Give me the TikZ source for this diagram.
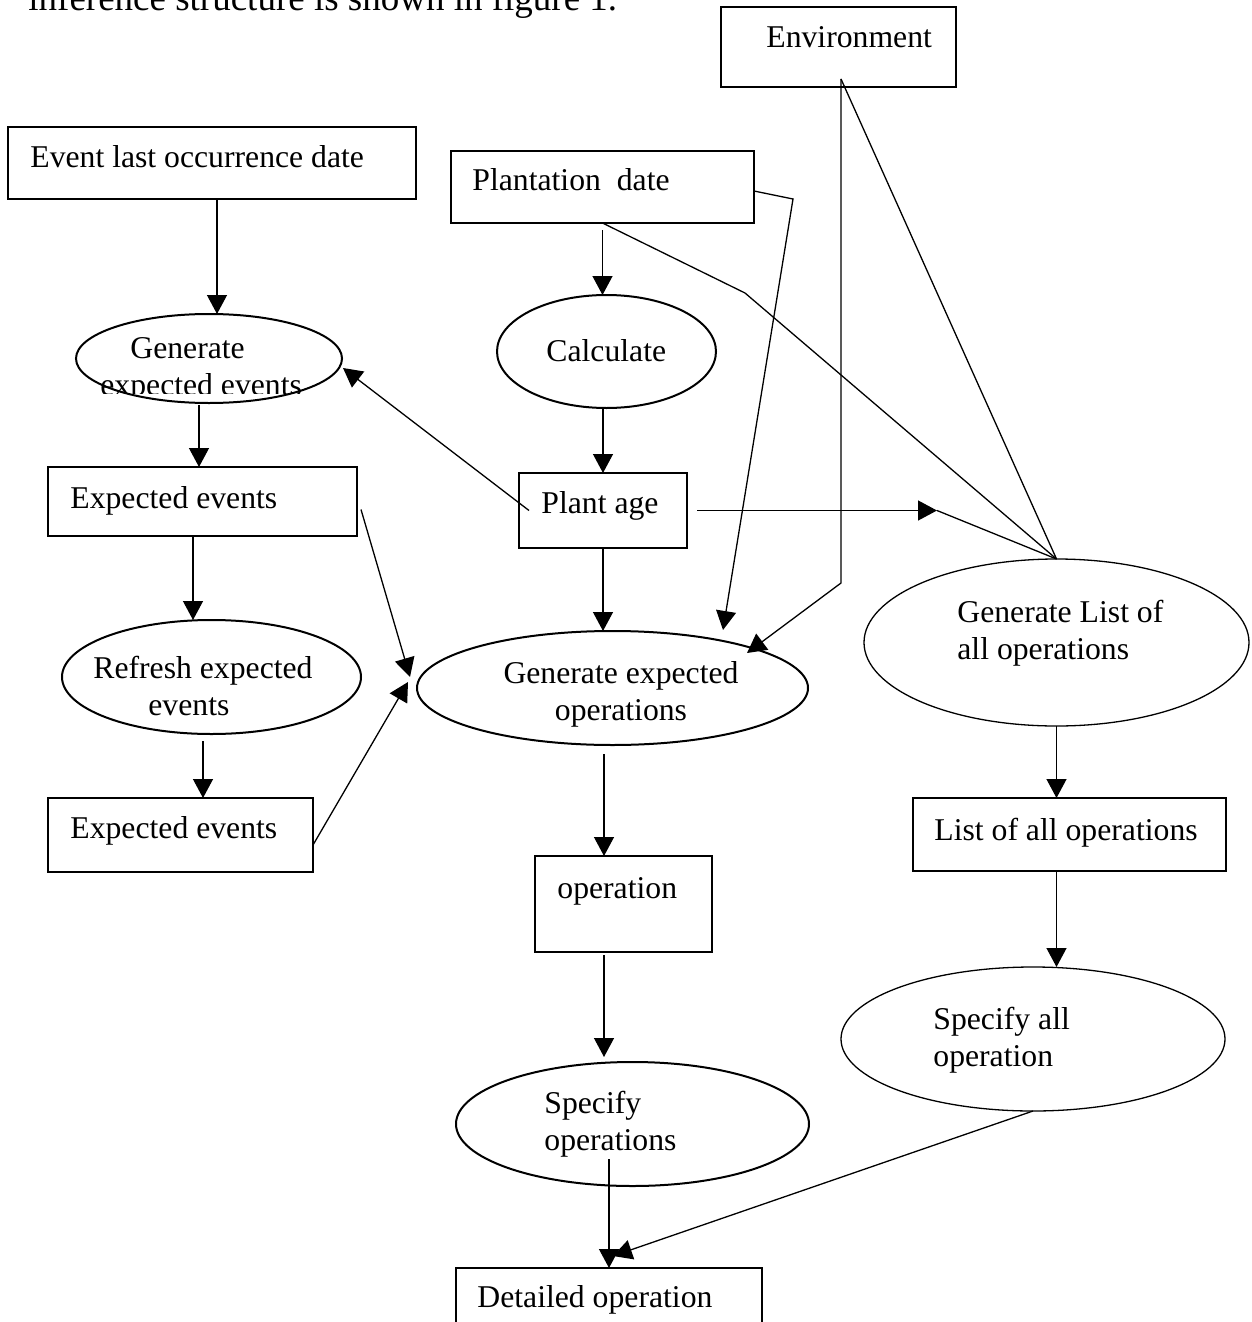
\documentclass[tikz,border=0pt]{standalone}
\usepackage{fontspec}
\setmainfont{Liberation Serif}
\usetikzlibrary{arrows.meta,shapes.geometric,calc}

\begin{document}
\begin{tikzpicture}[
    x=0.5pt, y=-0.5pt,
    font=\fontsize{15.85pt}{18.5pt}\selectfont,
    box/.style={draw,line width=1pt,inner sep=0pt,outer sep=0pt},
    oval/.style={draw,ellipse,line width=1pt,inner sep=0pt,outer sep=0pt},
    thinoval/.style={oval,line width=0.65pt},
    lbl/.style={anchor=base west,inner sep=0pt},
    arrow/.style={-{Triangle[length=9.5pt,width=10pt]},line width=0.65pt},
    link/.style={line width=0.65pt}
  ]
  \useasboundingbox (0,0) rectangle (1252,1322);

  % running text above the figure
  \node[lbl, font=\fontsize{18.5pt}{22pt}\selectfont] (intro) at (28,11) {inference structure is shown in figure 1.};

  % boxes
  \node[box, minimum width=117.5pt, minimum height=40pt] (env) at (838.5,47) {};
  \node[box, minimum width=204pt, minimum height=36pt] (evlast) at (212,163) {};
  \node[box, minimum width=151.5pt, minimum height=36pt] (plant) at (602.5,187) {};
  \node[box, minimum width=154.5pt, minimum height=34.5pt] (expev1) at (202.5,501.5) {};
  \node[box, minimum width=84pt, minimum height=37.5pt] (plantage) at (603,510.5) {};
  \node[box, minimum width=132.5pt, minimum height=37pt] (expev2) at (180.5,835) {};
  \node[box, minimum width=88.5pt, minimum height=48pt] (oper) at (623.5,904) {};
  \node[box, minimum width=156.5pt, minimum height=36.5pt] (listall) at (1069.5,834.5) {};
  \node[box, minimum width=153pt, minimum height=36pt] (detop) at (609,1304) {};

  % ellipses
  \node[oval, minimum width=133pt, minimum height=44.5pt] (genev) at (209,358.5) {};
  \node[oval, minimum width=109.5pt, minimum height=56.5pt] (calc) at (606.5,351.5) {};
  \node[oval, minimum width=149.5pt, minimum height=57pt] (refresh) at (211.5,677) {};
  \node[oval, minimum width=195.5pt, minimum height=57pt] (genops) at (612.5,688) {};
  \node[thinoval, minimum width=192.5pt, minimum height=83.5pt] (genlist) at (1056.5,642.5) {};
  \node[oval, minimum width=176.5pt, minimum height=62pt] (specops) at (632.5,1124) {};
  \node[thinoval, minimum width=192pt, minimum height=72pt] (specall) at (1033,1039) {};

  % texts
  \node[lbl] (env-t) at (766,48) {Environment};
  \node[lbl] (evlast-t) at (30,168) {Event last occurrence date};
  \node[lbl] (plant-t) at (472,191) {Plantation\ \ date};
  \node[lbl] (genev-t) at (130,358) {Generate};
  \begin{scope}
    \clip (90,365) rectangle (320,393);
    \node[lbl] (genev-t2) at (100,395) {expected events};
  \end{scope}
  \node[lbl] (calc-t) at (546,361) {Calculate};
  \node[lbl] (expev1-t) at (70,508) {Expected events};
  \node[lbl] (plantage-t) at (541,513) {Plant age};
  \node[lbl] (refresh-t) at (93,678) {\begin{tabular}[t]{@{}l@{}}Refresh expected\\\hspace*{27.5pt}events\end{tabular}};
  \node[lbl, anchor=base] (genops-t) at (621,683) {\begin{tabular}[t]{@{}c@{}}Generate expected\\operations\end{tabular}};
  \node[lbl] (genlist-t) at (957,622) {\begin{tabular}[t]{@{}l@{}}Generate List of\\all operations\end{tabular}};
  \node[lbl] (expev2-t) at (70,838) {Expected events};
  \node[lbl] (listall-t) at (934,840) {List of all operations};
  \node[lbl] (oper-t) at (557,898) {operation};
  \node[lbl] (specall-t) at (933,1029) {\begin{tabular}[t]{@{}l@{}}Specify all\\operation\end{tabular}};
  \node[lbl] (specops-t) at (544,1113) {\begin{tabular}[t]{@{}l@{}}Specify\\operations\end{tabular}};
  \node[lbl] (detop-t) at (477,1307) {Detailed operation};

  % bends
  \coordinate (envfoot) at ([shift={(1.25pt,4pt)}]env.south);
  \coordinate (envbend) at (841,583);
  \coordinate (plantbend) at (793,199);
  \coordinate (plantknee) at (745,293);
  \coordinate (agekink) at (937,510.5);

  % connectors
  \draw[arrow] ([xshift=2.5pt]evlast.south) -- ([xshift=4pt]genev.north);
  \draw[arrow] ([yshift=-3.5pt]plant.south) -- (calc.north -| plant.south);
  \draw[arrow] (calc.south -| plantage.north) -- (plantage.north);
  \draw[arrow] (plantage.south) -- (genops.north -| plantage.south);
  \draw[arrow] ([xshift=5pt]plantage.west) -- ([shift={(0.5pt,-4.75pt)}]genev.east);
  \draw[arrow] ([xshift=5pt]plantage.east) -- (agekink);
  \draw[link] (agekink) -- (genlist.north);
  \draw[arrow] ([yshift=-2pt]plant.east) -- (plantbend) -- ([shift={(55.25pt,0.5pt)}]genops.north);
  \draw[link] (plant.south) -- (plantknee) -- (genlist.north);
  \draw[arrow] (envfoot) -- (envbend) -- ([shift={(67.25pt,-11pt)}]genops.north);
  \draw[link] (envfoot) -- (genlist.north);
  \draw[arrow] ([shift={(-5pt,-1pt)}]genev.south) -- ([xshift=-1.75pt]expev1.north);
  \draw[arrow] ([xshift=-4.75pt]expev1.south) -- ([xshift=-9.25pt]refresh.north);
  \draw[arrow] ([shift={(-4.25pt,-3.5pt)}]refresh.south) -- ([xshift=11.25pt]expev2.north);
  \draw[arrow] ([shift={(2pt,-4pt)}]expev1.east) -- ([shift={(-3.5pt,5.5pt)}]genops.west);
  \draw[arrow] ([yshift=-5pt]expev2.east) -- ([shift={(-4.5pt,3pt)}]genops.west);
  \draw[arrow] ([shift={(-4.25pt,-4.5pt)}]genops.south) -- ([xshift=-9.75pt]oper.north);
  \draw[arrow] ([shift={(-9.75pt,-1.5pt)}]oper.south) -- ([shift={(-14.25pt,2.5pt)}]specops.north);
  \draw[arrow] ([shift={(-11.75pt,13.5pt)}]specops.south) -- (detop.north);
  \draw[arrow] (specall.south) -- ([shift={(2pt,6pt)}]detop.north);
  \draw[arrow] (genlist.south) -- (listall.north -| genlist.south);
  \draw[arrow] (listall.south -| genlist.south) -- (specall.north -| genlist.south);
\end{tikzpicture}
\end{document}
